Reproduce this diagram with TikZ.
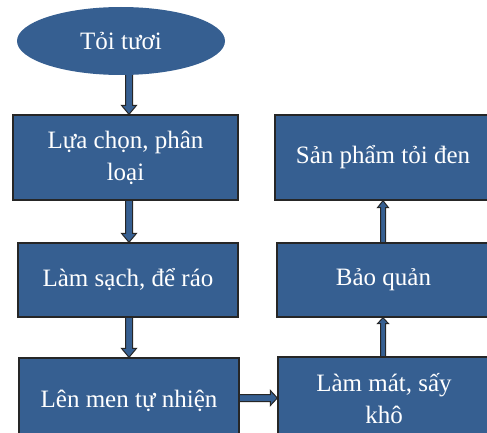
\documentclass[tikz,border=0pt]{standalone}
\usepackage{fontspec}
\setmainfont{Liberation Serif}
\usetikzlibrary{calc,shapes.geometric,backgrounds}
\definecolor{boxblue}{RGB}{54,95,145}
\definecolor{edgegray}{RGB}{38,38,38}
\tikzset{
  box/.style={draw=edgegray, line width=1.3pt, fill=boxblue, text=white,
    font=\fontsize{25}{32}\selectfont, align=center, inner sep=0pt},
  oval/.style={ellipse, fill=boxblue, text=white,
    font=\fontsize{25}{32}\selectfont, inner sep=0pt},
  barrow/.style={draw=edgegray, line width=1pt, fill=boxblue, line join=miter}
}
% vertical block arrow: from, to, x, shaft half width, head half width, head length
\newcommand\vbarrow[6]{%
  \draw[barrow] let \p1=(#1), \p2=(#2), \n1={ifthenelse(\y2>\y1,1,-1)} in
    (#3pt-#4pt,\y1-4pt*\n1) -- (#3pt-#4pt,\y2-#6pt*\n1) -- (#3pt-#5pt,\y2-#6pt*\n1)
    -- (#3pt,\y2) -- (#3pt+#5pt,\y2-#6pt*\n1) -- (#3pt+#4pt,\y2-#6pt*\n1)
    -- (#3pt+#4pt,\y1-4pt*\n1) -- cycle;}
% horizontal block arrow: from, to, y (pixels, downward), shaft half, head half, head length
\newcommand\hbarrow[6]{%
  \draw[barrow] let \p1=(#1), \p2=(#2), \n1={ifthenelse(\x2>\x1,1,-1)} in
    (\x1-4pt*\n1,-#3pt+#4pt) -- (\x2-#6pt*\n1,-#3pt+#4pt) -- (\x2-#6pt*\n1,-#3pt+#5pt)
    -- (\x2,-#3pt) -- (\x2-#6pt*\n1,-#3pt-#5pt) -- (\x2-#6pt*\n1,-#3pt-#4pt)
    -- (\x1-4pt*\n1,-#3pt-#4pt) -- cycle;}
\begin{document}
\begin{tikzpicture}[x=1pt,y=-1pt]
\path[use as bounding box, clip] (0,0) rectangle (487,433);
\node[oval, minimum width=208pt, minimum height=68pt] (e) at (121,41) {Tỏi tươi};
\node[box, minimum width=225pt, minimum height=85pt] (b1) at (125.5,157.5) {Lựa chọn, phân\\loại};
\node[box, minimum width=220pt, minimum height=74pt] (b2) at (128,280) {Làm sạch, để ráo};
\node[box, minimum width=220pt, minimum height=85pt] (b3) at (129,400.5) {Lên men tự nhiện};
\node[box, minimum width=212pt, minimum height=84pt] (b4) at (384,399) {Làm mát, sấy\\khô};
\node[box, minimum width=213pt, minimum height=74pt] (b5) at (383.5,280) {Bảo quản};
\node[box, minimum width=216pt, minimum height=85pt] (b6) at (383,157.5) {Sản phẩm tỏi đen};
\begin{pgfonlayer}{background}
\vbarrow{e.south}{b1.north}{129}{3.5}{7.5}{9}
\vbarrow{b1.south}{b2.north}{129}{3.5}{7.5}{9}
\vbarrow{b2.south}{b3.north}{129}{3.5}{7.5}{9}
\hbarrow{b3.east}{b4.west}{398}{3.5}{7.5}{7}
\vbarrow{b4.north}{b5.south}{383}{2.5}{5.5}{6}
\vbarrow{b5.north}{b6.south}{383}{2.5}{5.5}{7}
\end{pgfonlayer}
\end{tikzpicture}
\end{document}
